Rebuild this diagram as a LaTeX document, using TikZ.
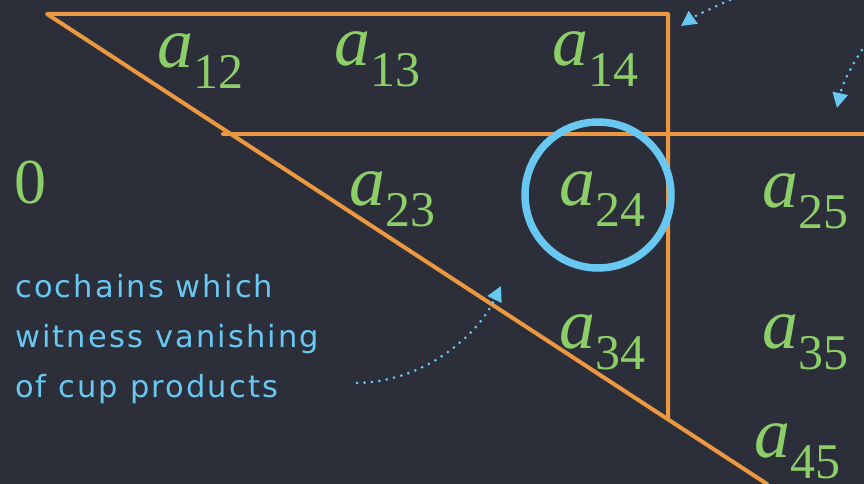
\documentclass[tikz,border=0pt]{standalone}
\usepackage{fontspec}
\usetikzlibrary{arrows.meta}
\newfontfamily\labfont{Liberation Serif}
\newfontfamily\notefont{DejaVu Sans}[LetterSpace=7.0]
\definecolor{board}{RGB}{44,47,58}
\definecolor{chalkorange}{RGB}{236,152,64}
\definecolor{chalkgreen}{RGB}{140,206,104}
\definecolor{chalkblue}{RGB}{104,200,242}
\newcommand{\entrylab}[1]{{\labfont\fontsize{72}{72}\selectfont\itshape a}\raisebox{-21pt}{\labfont\fontsize{50}{50}\selectfont #1}}
\begin{document}
\begin{tikzpicture}[x=1pt,y=-1pt,
  orangeline/.style={draw=chalkorange,line width=4pt,line cap=round,line join=round},
  entrylabel/.style={anchor=base west,inner sep=0pt,text=chalkgreen},
  notetext/.style={anchor=base west,inner sep=0pt,text=chalkblue,font=\notefont\fontsize{30.5}{36}\selectfont},
  notearrow/.style={draw=chalkblue,line width=3pt,line cap=round,dash pattern=on 0pt off 7.5pt,
    -{Triangle[length=15pt,width=15pt,fill=chalkblue]}},
  ringstyle/.style={draw=chalkblue,line width=7.5pt}
]
\fill[board] (0,0) rectangle (864,484);
\useasboundingbox (0,0) rectangle (864,484);

% corners of the orange frame
\coordinate (tl) at (47,14);
\coordinate (tr) at (668,14);
\coordinate (vb) at (668,418);
\coordinate (dend) at (767,484);
\coordinate (hl) at (223,134);
\coordinate (hr) at (866,134);

\draw[orangeline] (dend) -- (tl) -- (tr) -- (vb);
\draw[orangeline] (hl) -- (hr);

% ring around a24
\draw[ringstyle] (598,195) circle[radius=73];

% entries
\node[entrylabel] (a12) at (157,68) {\entrylab{12}};
\node[entrylabel] (a13) at (334,66) {\entrylab{13}};
\node[entrylabel] (a14) at (552,66) {\entrylab{14}};
\node[entrylabel] (a23) at (349,205) {\entrylab{23}};
\node[entrylabel] (a24) at (559,205) {\entrylab{24}};
\node[entrylabel] (a25) at (762,207) {\entrylab{25}};
\node[entrylabel] (a34) at (559,348) {\entrylab{34}};
\node[entrylabel] (a35) at (762,348) {\entrylab{35}};
\node[entrylabel] (a45) at (754,457) {\entrylab{45}};
\node[entrylabel,font=\labfont\fontsize{64}{64}\selectfont] (zero) at (14,203) {0};

% note
\node[notetext] (note1) at (15,297) {cochains which};
\node[notetext] (note2) at (15,347) {witness vanishing};
\node[notetext] (note3) at (15,397) {of cup products};

% dotted arrows
\coordinate (s1) at (730,0);
\coordinate (t1) at (681,26);
\coordinate (s2) at (866,44);
\coordinate (t2) at (837,108);
\coordinate (s3) at (357,383);
\coordinate (t3) at (501,286);
\draw[notearrow] (s1) .. controls (712,8) and (695,16) .. (t1);
\draw[notearrow] (s2) .. controls (853,62) and (842,85) .. (t2);
\draw[notearrow] (s3) .. controls (420,382) and (475,340) .. (t3);
\end{tikzpicture}
\end{document}
